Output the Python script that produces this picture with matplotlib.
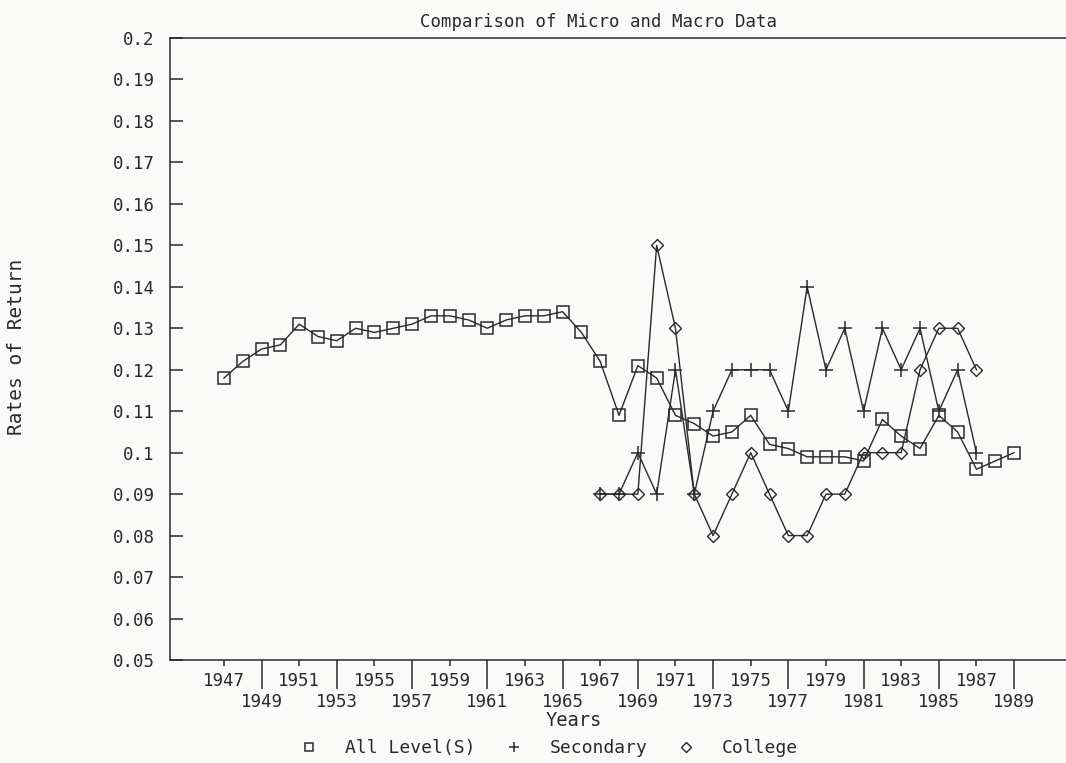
import numpy as np
import matplotlib
matplotlib.use('Agg')
import matplotlib.pyplot as plt
from matplotlib.lines import Line2D

# values
years_all = list(range(1947, 1990))
all_levels = [0.118, 0.122, 0.125, 0.126, 0.131, 0.128, 0.127, 0.130, 0.129, 0.130,
              0.131, 0.133, 0.133, 0.132, 0.130, 0.132, 0.133, 0.133, 0.134, 0.129,
              0.122, 0.109, 0.121, 0.118, 0.109, 0.107, 0.104, 0.105, 0.109, 0.102,
              0.101, 0.099, 0.099, 0.099, 0.098, 0.108, 0.104, 0.101, 0.109, 0.105,
              0.096, 0.098, 0.100]
years_sub = list(range(1967, 1988))
secondary = [0.09, 0.09, 0.10, 0.09, 0.12, 0.09, 0.11, 0.12, 0.12, 0.12, 0.11,
             0.14, 0.12, 0.13, 0.11, 0.13, 0.12, 0.13, 0.11, 0.12, 0.10]
college = [0.09, 0.09, 0.09, 0.15, 0.13, 0.09, 0.08, 0.09, 0.10, 0.09, 0.08,
           0.08, 0.09, 0.09, 0.10, 0.10, 0.10, 0.12, 0.13, 0.13, 0.12]
upper_years = list(range(1947, 1988, 4))
lower_years = list(range(1949, 1990, 4))
y_ticks = [round(0.05 + 0.01 * i, 2) for i in range(16)]

INK = '#2a2a2a'
BG = '#fafaf8'
plt.rcParams['font.family'] = ['DejaVu Sans Mono', 'DejaVu Sans']
plt.rcParams['text.color'] = INK

fig = plt.figure(figsize=(10.66, 7.63), dpi=100, facecolor=BG)
ax = fig.add_axes([170 / 1066, 1 - 660 / 763, 1 - 170 / 1066, (660 - 38) / 763])
ax.set_facecolor(BG)

ax.plot(years_all, all_levels, color=INK, lw=1.0, marker='s', ms=8.5,
        mfc='none', mec=INK, mew=1.1)
ax.plot(years_sub, secondary, color=INK, lw=1.0, marker='+', ms=10,
        mec=INK, mew=1.1)
ax.plot(years_sub, college, color=INK, lw=1.0, marker='D', ms=6.5,
        mfc='none', mec=INK, mew=1.0)

ax.set_xlim(1944.13, 1991.76)
ax.set_ylim(0.05, 0.2)

for side in ['left', 'top', 'bottom']:
    ax.spines[side].set_color(INK)
    ax.spines[side].set_linewidth(1.1)
ax.spines['right'].set_visible(False)

ax.set_yticks(y_ticks)
ax.set_yticklabels([f'{v:g}' for v in y_ticks])
ax.tick_params(axis='y', direction='in', length=9, width=1.1, color=INK,
               pad=11, labelsize=12.5, labelcolor=INK)

ax.set_xticks(upper_years)
ax.set_xticklabels([str(y) for y in upper_years])
ax.set_xticks(lower_years, minor=True)
ax.set_xticklabels([str(y) for y in lower_years], minor=True)
ax.tick_params(axis='x', which='major', direction='out', length=4, width=1.1,
               color=INK, pad=5, labelsize=12.5, labelcolor=INK)
ax.tick_params(axis='x', which='minor', direction='out', length=21, width=1.1,
               color=INK, pad=2.5, labelsize=12.5, labelcolor=INK)

ax.set_xlabel('Years', fontsize=13.5, color=INK, va='center')
ax.xaxis.set_label_coords((574 - 170) / 896, (660 - 721) / 622)
ax.set_ylabel('Rates of Return', fontsize=14, color=INK, va='center')
ax.yaxis.set_label_coords((17 - 170) / 896, (660 - 347) / 622)

fig.text(599 / 1066, 1 - 22 / 763, 'Comparison of Micro and Macro Data',
         fontsize=12.5, ha='center', va='center', color=INK)

handles = [
    Line2D([], [], ls='none', marker='s', ms=6, mfc='none', mec=INK, mew=1.1),
    Line2D([], [], ls='none', marker='+', ms=7, mec=INK, mew=1.1),
    Line2D([], [], ls='none', marker='D', ms=5, mfc='none', mec=INK, mew=1.0),
]
fig.legend(handles, ['All Level(S)', 'Secondary', 'College'], ncol=3,
           loc='center', bbox_to_anchor=(549 / 1066, 1 - 748 / 763),
           frameon=False, fontsize=13, handlelength=1.0, handletextpad=1.5,
           columnspacing=1.6)

fig.savefig('out.png', dpi=100, facecolor=BG)
